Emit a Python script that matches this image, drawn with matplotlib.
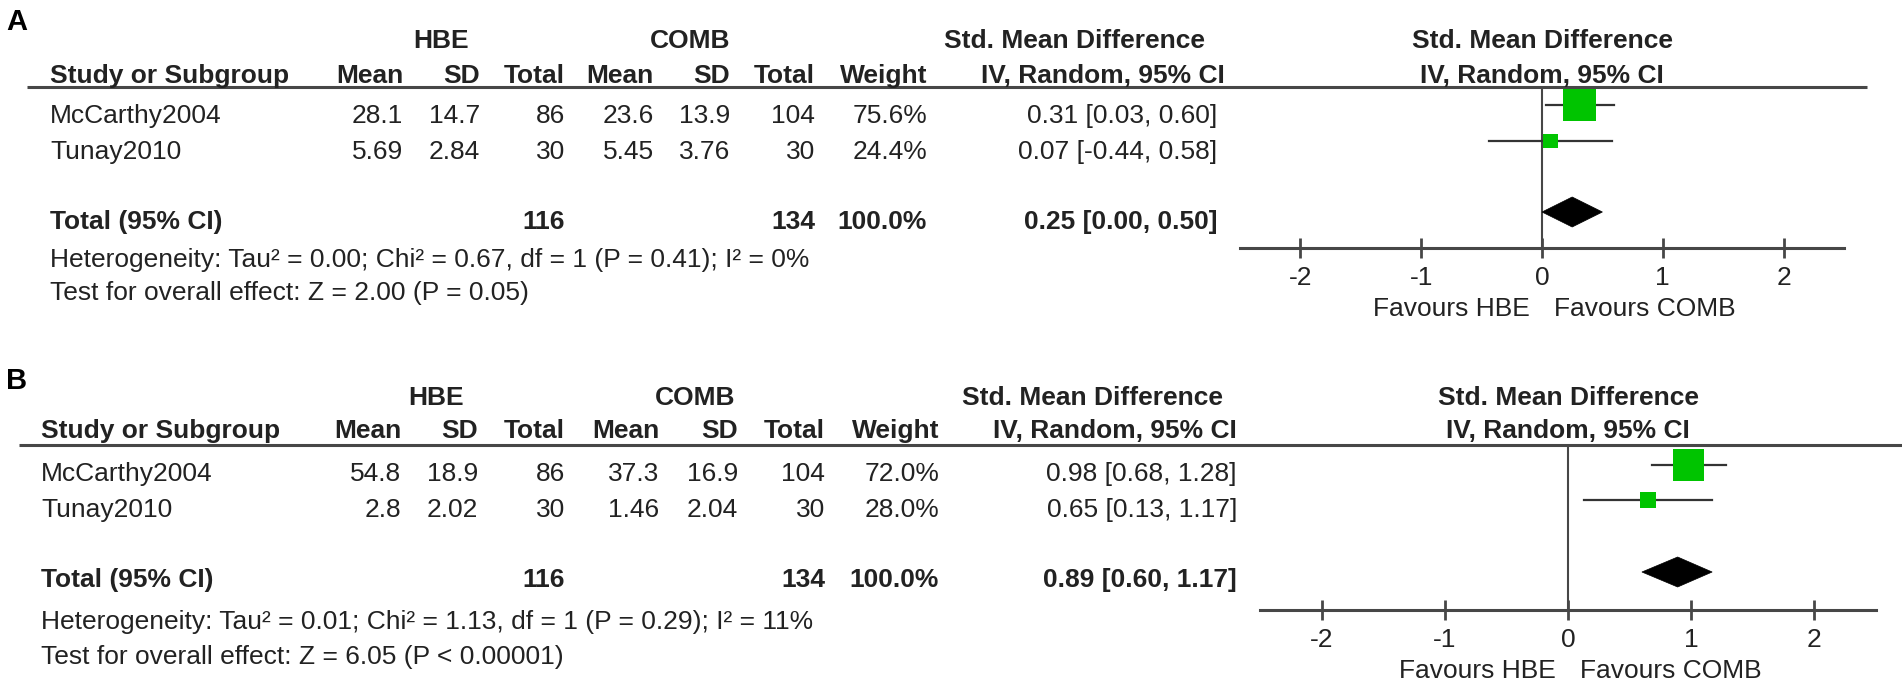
import numpy as np
import matplotlib
matplotlib.use('Agg')
import matplotlib.pyplot as plt
from matplotlib import rcParams
from matplotlib.patches import Polygon

config = {
    "font.family": ['Liberation Sans', 'DejaVu Sans'],
    "font.size": 19,
    "axes.unicode_minus": False,
}
rcParams.update(config)

# ---- data ----
studies = ['McCarthy2004', 'Tunay2010']
ticks = [-2, -1, 0, 1, 2]

# panel A
a_hbe_mean = [28.1, 5.69]
a_hbe_sd = [14.7, 2.84]
a_hbe_n = [86, 30]
a_comb_mean = [23.6, 5.45]
a_comb_sd = [13.9, 3.76]
a_comb_n = [104, 30]
a_weight = [75.6, 24.4]
a_smd = [0.31, 0.07]
a_lo = [0.03, -0.44]
a_hi = [0.60, 0.58]
a_total_n = [116, 134]
a_total_ci = [0.25, 0.00, 0.50]
a_het = 'Heterogeneity: Tau² = 0.00; Chi² = 0.67, df = 1 (P = 0.41); I² = 0%'
a_test = 'Test for overall effect: Z = 2.00 (P = 0.05)'

# panel B
b_hbe_mean = [54.8, 2.8]
b_hbe_sd = [18.9, 2.02]
b_hbe_n = [86, 30]
b_comb_mean = [37.3, 1.46]
b_comb_sd = [16.9, 2.04]
b_comb_n = [104, 30]
b_weight = [72.0, 28.0]
b_smd = [0.98, 0.65]
b_lo = [0.68, 0.13]
b_hi = [1.28, 1.17]
b_total_n = [116, 134]
b_total_ci = [0.89, 0.60, 1.17]
b_het = 'Heterogeneity: Tau² = 0.01; Chi² = 1.13, df = 1 (P = 0.29); I² = 11%'
b_test = 'Test for overall effect: Z = 6.05 (P < 0.00001)'

W, H = 1902, 690
TXT = '#222222'
LINE = '#474747'
GREEN = '#00c400'

# layout in pixels (top-left origin)
lay_a = dict(letter='A', letter_y=22, h1=48, h2=83, line=87, line_x=(27, 1867),
             rows=[123, 159], total=229, het=267, test=300, name_x=50,
             cols=[403, 480, 565, 654, 730, 815, 927], smd_x=1217, smd_h=(1205, 1225),
             hbe_x=441, comb_x=690, plot_x=(1240, 1844), mk_y=[105, 141], dia_y=212, axis_y=248)
lay_b = dict(letter='B', letter_y=381, h1=405, h2=438, line=445, line_x=(19, 1902),
             rows=[481, 517], total=587, het=629, test=664, name_x=41,
             cols=[401, 478, 565, 659, 738, 825, 939], smd_x=1237, smd_h=(1223, 1237),
             hbe_x=436, comb_x=695, plot_x=(1260, 1876), mk_y=[465, 500], dia_y=572, axis_y=610)

fig = plt.figure(figsize=(W / 100, H / 100), dpi=100)
bg = fig.add_axes([0, 0, 1, 1])
bg.set_xlim(0, W)
bg.set_ylim(H, 0)
bg.axis('off')


def draw_panel(L, hm, hs, hn, cm, cs, cn, wt, smd, lo, hi, tot_n, tot_ci, het, test):
    bg.text(6, L['letter_y'], L['letter'], fontsize=21, fontweight='bold', ha='left', va='center', color='black')
    # table headers
    bg.text(L['hbe_x'], L['h1'], 'HBE', fontweight='bold', ha='center', va='baseline', color=TXT)
    bg.text(L['comb_x'], L['h1'], 'COMB', fontweight='bold', ha='center', va='baseline', color=TXT)
    bg.text(L['smd_h'][0], L['h1'], 'Std. Mean Difference', fontweight='bold', ha='right', va='baseline', color=TXT)
    bg.text(L['smd_h'][1], L['h2'], 'IV, Random, 95% CI', fontweight='bold', ha='right', va='baseline', color=TXT)
    bg.text(L['name_x'], L['h2'], 'Study or Subgroup', fontweight='bold', ha='left', va='baseline', color=TXT)
    for x, lab in zip(L['cols'], ['Mean', 'SD', 'Total', 'Mean', 'SD', 'Total', 'Weight']):
        bg.text(x, L['h2'], lab, fontweight='bold', ha='right', va='baseline', color=TXT)
    bg.plot(L['line_x'], [L['line'], L['line']], color=LINE, lw=2.2, solid_capstyle='butt')

    # study rows
    for i, name in enumerate(studies):
        y = L['rows'][i]
        bg.text(L['name_x'], y, name, ha='left', va='baseline', color=TXT)
        vals = ['{:g}'.format(hm[i]), '{:g}'.format(hs[i]), str(hn[i]),
                '{:g}'.format(cm[i]), '{:g}'.format(cs[i]), str(cn[i]), '{:.1f}%'.format(wt[i])]
        for x, v in zip(L['cols'], vals):
            bg.text(x, y, v, ha='right', va='baseline', color=TXT)
        bg.text(L['smd_x'], y, '{:.2f} [{:.2f}, {:.2f}]'.format(smd[i], lo[i], hi[i]),
                ha='right', va='baseline', color=TXT)

    # total row
    y = L['total']
    bg.text(L['name_x'], y, 'Total (95% CI)', fontweight='bold', ha='left', va='baseline', color=TXT)
    bg.text(L['cols'][2], y, str(tot_n[0]), fontweight='bold', ha='right', va='baseline', color=TXT)
    bg.text(L['cols'][5], y, str(tot_n[1]), fontweight='bold', ha='right', va='baseline', color=TXT)
    bg.text(L['cols'][6], y, '100.0%', fontweight='bold', ha='right', va='baseline', color=TXT)
    bg.text(L['smd_x'], y, '{:.2f} [{:.2f}, {:.2f}]'.format(*tot_ci), fontweight='bold',
            ha='right', va='baseline', color=TXT)
    bg.text(L['name_x'], L['het'], het, ha='left', va='baseline', color=TXT)
    bg.text(L['name_x'], L['test'], test, ha='left', va='baseline', color=TXT)

    # forest plot axes
    x0, x1 = L['plot_x']
    top, bot = L['line'], L['axis_y']
    ax = fig.add_axes([x0 / W, 1 - bot / H, (x1 - x0) / W, (bot - top) / H])
    ax.set_xlim(-2.5, 2.5)
    ax.set_ylim(bot, top)
    ax.patch.set_alpha(0)
    for s in ['top', 'left', 'right']:
        ax.spines[s].set_visible(False)
    ax.spines['bottom'].set_color(LINE)
    ax.spines['bottom'].set_linewidth(2.2)
    ax.set_yticks([])
    ax.set_xticks(ticks)
    ax.set_xticklabels([str(t) for t in ticks])
    ax.tick_params(axis='x', direction='inout', length=14, width=2, color=LINE, pad=6, labelcolor=TXT)
    ax.axvline(0, color=LINE, lw=1.5)

    sides = [(6 + 0.35 * w) * 0.72 for w in wt]
    for i in range(len(studies)):
        ym = L['mk_y'][i]
        ax.plot([lo[i], hi[i]], [ym, ym], color='#333333', lw=1.6, zorder=2)
    ax.scatter(smd, L['mk_y'], s=np.array(sides) ** 2, marker='s', color=GREEN, linewidths=0, zorder=3)
    est, dlo, dhi = tot_ci
    yd = L['dia_y']
    ax.add_patch(Polygon([(dlo, yd), (est, yd - 15), (dhi, yd), (est, yd + 15)],
                         closed=True, facecolor='black', edgecolor='black', lw=0.5, zorder=3))

    # plot headers and favours labels
    ax.annotate('Std. Mean Difference', xy=(0, 1), xycoords=('data', 'axes fraction'),
                xytext=(0, (top - L['h1']) * 0.72), textcoords='offset points',
                ha='center', va='baseline', fontweight='bold', color=TXT)
    ax.annotate('IV, Random, 95% CI', xy=(0, 1), xycoords=('data', 'axes fraction'),
                xytext=(0, (top - L['h2']) * 0.72), textcoords='offset points',
                ha='center', va='baseline', fontweight='bold', color=TXT)
    ax.annotate('Favours HBE', xy=(0, 0), xycoords=('data', 'axes fraction'),
                xytext=(-9, -44), textcoords='offset points', ha='right', va='center', color=TXT)
    ax.annotate('Favours COMB', xy=(0, 0), xycoords=('data', 'axes fraction'),
                xytext=(9, -44), textcoords='offset points', ha='left', va='center', color=TXT)
    return ax


draw_panel(lay_a, a_hbe_mean, a_hbe_sd, a_hbe_n, a_comb_mean, a_comb_sd, a_comb_n, a_weight,
           a_smd, a_lo, a_hi, a_total_n, a_total_ci, a_het, a_test)
draw_panel(lay_b, b_hbe_mean, b_hbe_sd, b_hbe_n, b_comb_mean, b_comb_sd, b_comb_n, b_weight,
           b_smd, b_lo, b_hi, b_total_n, b_total_ci, b_het, b_test)

plt.savefig('out.png', dpi=100)
